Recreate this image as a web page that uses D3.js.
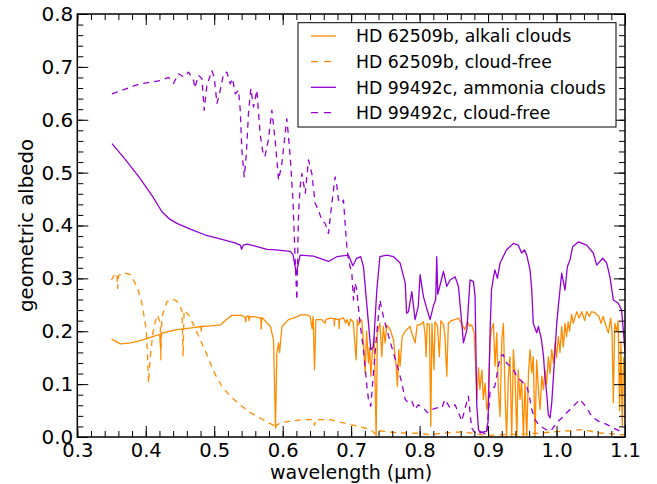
<!DOCTYPE html>
<html>
<head>
<meta charset="utf-8">
<script src="https://cdn.jsdelivr.net/npm/d3@7/dist/d3.min.js"></script>
<style>
  html, body { margin: 0; padding: 0; background: #fff; }
  svg { display: block; }
  text { font-family: "DejaVu Sans", sans-serif; fill: #000; }
</style>
</head>
<body>
<div id="chart"></div>
<script>
// ---- data (wavelength in micron, geometric albedo) ----
const seriesNames = [
  "HD 62509b, alkali clouds",
  "HD 62509b, cloud-free",
  "HD 99492c, ammonia clouds",
  "HD 99492c, cloud-free"
];
const seriesColors = ["#ff8c00", "#ff8c00", "#9400d3", "#9400d3"];
const seriesDashed = [false, true, false, true];

const xTicks = [0.3, 0.4, 0.5, 0.6, 0.7, 0.8, 0.9, 1.0, 1.1];
const yTicks = [0.0, 0.1, 0.2, 0.3, 0.4, 0.5, 0.6, 0.7, 0.8];

const hd62509Clouds = [
  [0.350,0.185],[0.363,0.176],[0.378,0.178],[0.397,0.184],[0.410,0.190],[0.4205,0.194],[0.4215,0.168],[0.4225,0.196],
  [0.435,0.200],[0.446,0.203],[0.470,0.207],[0.4805,0.209],[0.481,0.200],[0.4815,0.209],[0.494,0.210],[0.509,0.212],
  [0.5185,0.223],[0.526,0.230],[0.540,0.230],[0.545,0.226],[0.546,0.218],[0.547,0.228],[0.550,0.229],[0.551,0.220],
  [0.552,0.228],[0.560,0.227],[0.568,0.225],[0.5686,0.204],[0.5695,0.226],[0.572,0.223],[0.582,0.209],[0.5866,0.184],
  [0.5895,0.017],[0.5915,0.159],[0.594,0.178],[0.5955,0.160],[0.5975,0.190],[0.599,0.209],[0.6085,0.222],[0.6207,0.227],
  [0.6255,0.231],[0.6353,0.231],[0.640,0.228],[0.643,0.205],[0.6445,0.228],[0.6465,0.127],[0.6485,0.222],[0.657,0.222],
  [0.662,0.215],[0.663,0.222],[0.6693,0.225],[0.675,0.224],[0.6755,0.210],[0.676,0.224],[0.682,0.222],[0.6825,0.205],
  [0.683,0.223],[0.6888,0.225],[0.692,0.215],[0.694,0.222],[0.697,0.210],[0.699,0.223],[0.703,0.218],[0.7073,0.146],
  [0.709,0.222],[0.7107,0.212],[0.7135,0.222],[0.7156,0.220],[0.718,0.178],[0.7204,0.121],[0.7225,0.200],[0.7253,0.140],
  [0.727,0.170],[0.7287,0.115],[0.731,0.160],[0.7336,0.190],[0.735,0.100],[0.7365,0.000],[0.7384,0.197],[0.742,0.215],
  [0.7448,0.152],[0.747,0.209],[0.7496,0.178],[0.752,0.212],[0.757,0.203],[0.7618,0.184],[0.7657,0.134],[0.7676,0.096],
  [0.7696,0.165],[0.7715,0.134],[0.7745,0.190],[0.779,0.200],[0.786,0.209],[0.789,0.195],[0.7934,0.178],[0.7965,0.212],
  [0.8007,0.212],[0.8056,0.218],[0.808,0.195],[0.8095,0.152],[0.811,0.215],[0.8143,0.212],[0.8163,0.020],[0.818,0.215],
  [0.821,0.127],[0.8226,0.218],[0.826,0.210],[0.8289,0.152],[0.831,0.220],[0.835,0.212],[0.837,0.190],[0.8397,0.115],
  [0.842,0.215],[0.846,0.220],[0.8518,0.222],[0.8567,0.225],[0.861,0.215],[0.866,0.203],[0.870,0.218],[0.873,0.210],
  [0.876,0.212],[0.8796,0.197],[0.8825,0.115],[0.8835,0.071],[0.886,0.131],[0.888,0.090],[0.891,0.127],[0.893,0.071],
  [0.8956,0.102],[0.898,0.052],[0.900,0.065],[0.903,0.184],[0.905,0.203],[0.9078,0.215],[0.9102,0.134],[0.9127,0.197],
  [0.915,0.090],[0.9175,0.039],[0.920,0.184],[0.9224,0.215],[0.925,0.071],[0.927,0.000],[0.9297,0.115],[0.932,0.152],
  [0.9345,0.000],[0.937,0.165],[0.9394,0.115],[0.942,0.000],[0.944,0.127],[0.9467,0.071],[0.949,0.108],[0.9516,0.000],
  [0.954,0.102],[0.9565,0.000],[0.959,0.120],[0.9613,0.165],[0.9638,0.121],[0.966,0.152],[0.9686,0.000],[0.971,0.146],
  [0.9735,0.090],[0.976,0.052],[0.9784,0.115],[0.981,0.090],[0.983,0.127],[0.9855,0.100],[0.988,0.152],[0.9905,0.120],
  [0.993,0.165],[0.9955,0.140],[0.9978,0.178],[1.000,0.150],[1.0026,0.190],[1.005,0.160],[1.0075,0.209],[1.010,0.170],
  [1.0124,0.215],[1.0145,0.190],[1.017,0.218],[1.019,0.200],[1.022,0.232],[1.0245,0.215],[1.0295,0.237],[1.033,0.225],
  [1.037,0.237],[1.041,0.220],[1.044,0.237],[1.048,0.228],[1.051,0.237],[1.056,0.235],[1.062,0.228],[1.065,0.215],
  [1.068,0.228],[1.071,0.215],[1.0757,0.197],[1.079,0.225],[1.081,0.200],[1.083,0.065],[1.085,0.215],[1.088,0.200],
  [1.090,0.220],[1.092,0.050],[1.094,0.180],[1.096,0.020],[1.098,0.150],[1.100,0.100]
];

const hd62509Clear = [
  [0.350,0.297],[0.3555,0.310],[0.358,0.305],[0.359,0.281],[0.360,0.305],[0.3676,0.311],[0.3774,0.307],[0.3871,0.285],
  [0.3944,0.253],[0.4007,0.203],[0.4026,0.152],[0.404,0.102],[0.4066,0.152],[0.4105,0.197],[0.4139,0.218],[0.4173,0.231],
  [0.4212,0.215],[0.422,0.146],[0.4236,0.228],[0.431,0.256],[0.4382,0.261],[0.4455,0.257],[0.4528,0.240],[0.4545,0.152],
  [0.456,0.240],[0.4625,0.231],[0.470,0.212],[0.4796,0.184],[0.4893,0.156],[0.499,0.124],[0.5112,0.096],[0.5234,0.077],
  [0.538,0.061],[0.5526,0.046],[0.567,0.036],[0.5793,0.027],[0.587,0.022],[0.589,0.015],[0.591,0.022],[0.5963,0.027],
  [0.611,0.030],[0.630,0.033],[0.645,0.033],[0.6465,0.022],[0.648,0.033],[0.669,0.033],[0.684,0.028],[0.694,0.025],
  [0.7107,0.020],[0.7277,0.014],[0.7365,0.005],[0.740,0.012],[0.767,0.008],[0.800,0.007],[0.8163,0.004],[0.830,0.007],
  [0.864,0.010],[0.880,0.006],[0.900,0.003],[0.930,0.005],[0.960,0.006],[1.000,0.010],[1.039,0.014],[1.060,0.008],
  [1.080,0.006],[1.100,0.004]
];

const hd99492Clouds = [
  [0.3507,0.555],[0.370,0.525],[0.390,0.492],[0.410,0.455],[0.4236,0.426],[0.435,0.412],[0.4455,0.404],[0.465,0.393],
  [0.487,0.382],[0.510,0.374],[0.530,0.367],[0.538,0.363],[0.540,0.355],[0.5425,0.363],[0.548,0.365],[0.560,0.361],
  [0.577,0.355],[0.590,0.354],[0.611,0.351],[0.615,0.345],[0.6185,0.320],[0.6197,0.308],[0.6215,0.320],[0.6255,0.344],
  [0.645,0.342],[0.667,0.332],[0.679,0.341],[0.696,0.344],[0.7025,0.324],[0.708,0.338],[0.714,0.341],[0.718,0.322],
  [0.7253,0.215],[0.7287,0.165],[0.7326,0.171],[0.7375,0.278],[0.742,0.341],[0.752,0.344],[0.762,0.341],[0.7715,0.329],
  [0.779,0.291],[0.781,0.234],[0.7837,0.237],[0.7886,0.275],[0.7934,0.222],[0.798,0.247],[0.8007,0.307],[0.8055,0.266],
  [0.8095,0.247],[0.8153,0.222],[0.820,0.247],[0.8235,0.260],[0.825,0.341],[0.8265,0.270],[0.8348,0.313],[0.8397,0.285],
  [0.8445,0.297],[0.8518,0.303],[0.8567,0.285],[0.8616,0.215],[0.864,0.178],[0.869,0.203],[0.8737,0.297],[0.8786,0.294],
  [0.881,0.266],[0.8835,0.060],[0.886,0.014],[0.8883,0.008],[0.898,0.011],[0.900,0.030],[0.903,0.203],[0.905,0.278],
  [0.908,0.303],[0.910,0.316],[0.9136,0.300],[0.9175,0.329],[0.927,0.354],[0.937,0.366],[0.944,0.363],[0.949,0.348],
  [0.953,0.354],[0.9565,0.344],[0.9613,0.316],[0.9638,0.278],[0.966,0.215],[0.971,0.197],[0.9735,0.209],[0.978,0.184],
  [0.981,0.152],[0.983,0.115],[0.986,0.077],[0.988,0.042],[0.9905,0.036],[0.993,0.065],[0.9955,0.115],[1.0003,0.215],
  [1.0026,0.247],[1.005,0.278],[1.0075,0.310],[1.0124,0.278],[1.0158,0.322],[1.0197,0.335],[1.0236,0.360],[1.0318,0.369],
  [1.044,0.363],[1.0537,0.348],[1.0587,0.325],[1.0674,0.338],[1.0733,0.329],[1.078,0.303],[1.083,0.259],[1.0902,0.253],
  [1.095,0.240],[1.0975,0.203],[1.100,0.160]
];

const hd99492Clear = [
  [0.3507,0.649],[0.392,0.668],[0.421,0.674],[0.4333,0.680],[0.4406,0.669],[0.4479,0.687],[0.455,0.681],[0.4625,0.690],
  [0.470,0.674],[0.4715,0.660],[0.477,0.684],[0.482,0.678],[0.4854,0.618],[0.4893,0.665],[0.4966,0.693],[0.500,0.680],
  [0.504,0.631],[0.507,0.645],[0.5136,0.687],[0.5185,0.690],[0.5234,0.668],[0.5267,0.678],[0.5307,0.649],[0.5355,0.656],
  [0.538,0.618],[0.5404,0.542],[0.5438,0.492],[0.547,0.536],[0.550,0.612],[0.5535,0.659],[0.5574,0.624],[0.5623,0.656],
  [0.567,0.574],[0.5705,0.542],[0.574,0.530],[0.579,0.561],[0.5842,0.618],[0.589,0.561],[0.594,0.486],[0.5988,0.517],
  [0.606,0.602],[0.6085,0.568],[0.611,0.530],[0.615,0.448],[0.6183,0.335],[0.6207,0.259],[0.623,0.417],[0.6255,0.473],
  [0.628,0.498],[0.633,0.461],[0.6377,0.524],[0.6426,0.498],[0.6474,0.442],[0.6523,0.429],[0.657,0.410],[0.662,0.404],
  [0.6669,0.385],[0.6718,0.442],[0.6766,0.492],[0.679,0.476],[0.6815,0.448],[0.6864,0.442],[0.6888,0.448],[0.6912,0.404],
  [0.6937,0.360],[0.696,0.335],[0.6985,0.322],[0.701,0.310],[0.7034,0.259],[0.7058,0.291],[0.708,0.280],[0.713,0.215],
  [0.718,0.165],[0.723,0.096],[0.7253,0.071],[0.7287,0.058],[0.7326,0.121],[0.7375,0.197],[0.742,0.259],[0.747,0.228],
  [0.752,0.203],[0.7618,0.159],[0.769,0.127],[0.774,0.102],[0.779,0.071],[0.7837,0.065],[0.7886,0.068],[0.7934,0.052],
  [0.798,0.061],[0.8055,0.055],[0.8114,0.046],[0.8178,0.052],[0.825,0.055],[0.8324,0.055],[0.837,0.071],[0.8445,0.055],
  [0.8518,0.061],[0.859,0.039],[0.8616,0.030],[0.866,0.052],[0.8713,0.077],[0.876,0.017],[0.881,0.008],[0.888,0.011],
  [0.898,0.005],[0.903,0.086],[0.910,0.096],[0.9175,0.152],[0.922,0.156],[0.927,0.140],[0.932,0.134],[0.937,0.127],
  [0.942,0.115],[0.9467,0.108],[0.9516,0.102],[0.9565,0.096],[0.9603,0.077],[0.9638,0.052],[0.9686,0.033],[0.9735,0.024],
  [0.981,0.017],[0.988,0.011],[0.993,0.014],[1.0003,0.027],[1.0075,0.036],[1.0148,0.046],[1.022,0.055],[1.0295,0.065],
  [1.0343,0.071],[1.044,0.055],[1.0513,0.039],[1.061,0.030],[1.0733,0.024],[1.083,0.017],[1.0927,0.011],[1.100,0.008]
];

const seriesData = [hd62509Clouds, hd62509Clear, hd99492Clouds, hd99492Clear];

// ---- layout ----
const W = 657, H = 484;
const L = 77.3, R = 625, T = 14, B = 437;

const svg = d3.select("#chart").append("svg").attr("width", W).attr("height", H);

const x = d3.scaleLinear().domain([0.3, 1.1]).range([L, R]);
const y = d3.scaleLinear().domain([0, 0.8]).range([B, T]);

const xMinor = d3.range(0.30, 1.1001, 0.02).map(v => +v.toFixed(2));
const yMinor = d3.range(0.00, 0.8001, 0.02).map(v => +v.toFixed(2));

svg.append("defs").append("clipPath").attr("id", "clip")
  .append("rect").attr("x", L).attr("y", T).attr("width", R - L).attr("height", B - T);

// lines
const line = d3.line().x(d => x(d[0])).y(d => y(d[1]));
const plot = svg.append("g").attr("clip-path", "url(#clip)");
seriesData.forEach((data, i) => {
  plot.append("path")
    .datum(data)
    .attr("d", line)
    .attr("fill", "none")
    .attr("stroke", seriesColors[i])
    .attr("stroke-width", 1.3)
    .attr("stroke-linejoin", "round")
    .attr("stroke-dasharray", seriesDashed[i] ? "6,5" : null);
});

// axes
const fmt = d3.format(".1f");
function styleAxis(g) {
  g.select(".domain").remove();
  g.selectAll(".tick line").attr("stroke", "#000").attr("stroke-width", 1);
}
const major = 11, minor = 6;

svg.append("g").attr("transform", `translate(0,${B})`)
  .call(d3.axisBottom(x).tickValues(xTicks).tickFormat(fmt).tickSize(-major).tickPadding(6))
  .call(styleAxis)
  .call(g => g.selectAll("text").attr("font-size", 19.5).attr("font-family", "DejaVu Sans"));
svg.append("g").attr("transform", `translate(0,${B})`)
  .call(d3.axisBottom(x).tickValues(xMinor).tickFormat("").tickSize(-minor)).call(styleAxis);
svg.append("g").attr("transform", `translate(0,${T})`)
  .call(d3.axisTop(x).tickValues(xTicks).tickFormat("").tickSize(-major)).call(styleAxis);
svg.append("g").attr("transform", `translate(0,${T})`)
  .call(d3.axisTop(x).tickValues(xMinor).tickFormat("").tickSize(-minor)).call(styleAxis);

svg.append("g").attr("transform", `translate(${L},0)`)
  .call(d3.axisLeft(y).tickValues(yTicks).tickFormat(fmt).tickSize(-major).tickPadding(4))
  .call(styleAxis)
  .call(g => g.selectAll("text").attr("font-size", 20).attr("font-family", "DejaVu Sans"));
svg.append("g").attr("transform", `translate(${L},0)`)
  .call(d3.axisLeft(y).tickValues(yMinor).tickFormat("").tickSize(-minor)).call(styleAxis);
svg.append("g").attr("transform", `translate(${R},0)`)
  .call(d3.axisRight(y).tickValues(yTicks).tickFormat("").tickSize(-major)).call(styleAxis);
svg.append("g").attr("transform", `translate(${R},0)`)
  .call(d3.axisRight(y).tickValues(yMinor).tickFormat("").tickSize(-minor)).call(styleAxis);

// frame
svg.append("rect").attr("x", L).attr("y", T).attr("width", R - L).attr("height", B - T)
  .attr("fill", "none").attr("stroke", "#000").attr("stroke-width", 1.5);

// axis labels
svg.append("text").attr("x", (L + R) / 2).attr("y", 479)
  .attr("text-anchor", "middle").attr("font-size", 19).text("wavelength (\u03bcm)");
svg.append("text").attr("transform", `translate(33,${(T + B) / 2}) rotate(-90)`)
  .attr("text-anchor", "middle").attr("font-size", 19.7).text("geometric albedo");

// legend
const lg = svg.append("g");
lg.append("rect").attr("x", 298).attr("y", 22.7).attr("width", 318).attr("height", 104.3)
  .attr("fill", "#fff").attr("stroke", "#000").attr("stroke-width", 1);
const rowY = [36, 61.7, 87.3, 112.7];
seriesNames.forEach((name, i) => {
  lg.append("line").attr("x1", 311).attr("x2", 336).attr("y1", rowY[i]).attr("y2", rowY[i])
    .attr("stroke", seriesColors[i]).attr("stroke-width", 1.3)
    .attr("stroke-dasharray", seriesDashed[i] ? "7,6" : null);
  lg.append("text").attr("x", 356).attr("y", rowY[i]).attr("dy", "0.36em")
    .attr("font-size", 17.3).text(name);
});
</script>
</body>
</html>
